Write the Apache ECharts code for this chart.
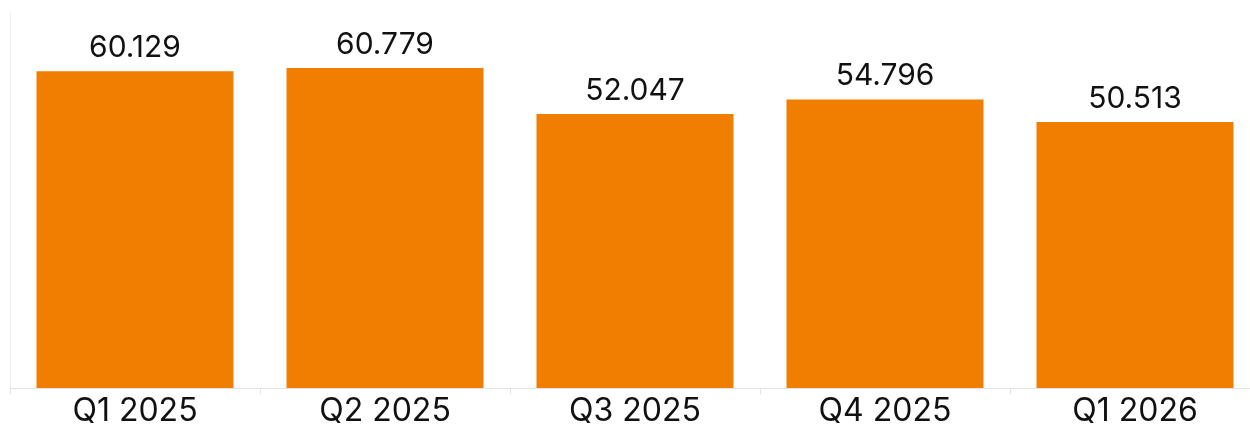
<!DOCTYPE html>
<html>
<head>
<meta charset="utf-8">
<script src="https://cdn.jsdelivr.net/npm/echarts@6/dist/echarts.min.js"></script>
<style>
  html, body { margin: 0; padding: 0; background: #fff; }
  #chart { width: 1250px; height: 427px; }
</style>
</head>
<body>
<div id="chart"></div>
<script>
  // quarters and values
  var quarters = ['Q1 2025', 'Q2 2025', 'Q3 2025', 'Q4 2025', 'Q1 2026']
  var values = [60.129, 60.779, 52.047, 54.796, 50.513]

  var chart = echarts.init(document.getElementById('chart'))
  chart.setOption({
    animation: false,
    grid: { left: 10, width: 1250, top: 12, bottom: 39, outerBoundsMode: 'none' },
    xAxis: {
      type: 'category',
      data: quarters,
      axisLine: { lineStyle: { color: '#e3e3e3', width: 1 } },
      axisTick: { show: true, length: 6, lineStyle: { color: '#e3e3e3' } },
      axisLabel: {
        margin: 7,
        color: '#111',
        fontSize: 32,
        fontFamily: 'Inter'
      }
    },
    yAxis: {
      type: 'value',
      min: 0,
      max: 71.4,
      axisLabel: { show: false },
      axisTick: { show: false },
      splitLine: { show: false },
      axisLine: { show: true, lineStyle: { color: '#f0f0f0' } }
    },
    series: [
      {
        type: 'bar',
        data: values,
        barWidth: 197,
        itemStyle: { color: '#f07e00' },
        label: {
          show: true,
          position: 'top',
          distance: 8,
          color: '#111',
          fontSize: 30,
          fontFamily: 'Inter',
          formatter: function (p) { return p.value.toFixed(3) }
        }
      }
    ]
  })
</script>
</body>
</html>
